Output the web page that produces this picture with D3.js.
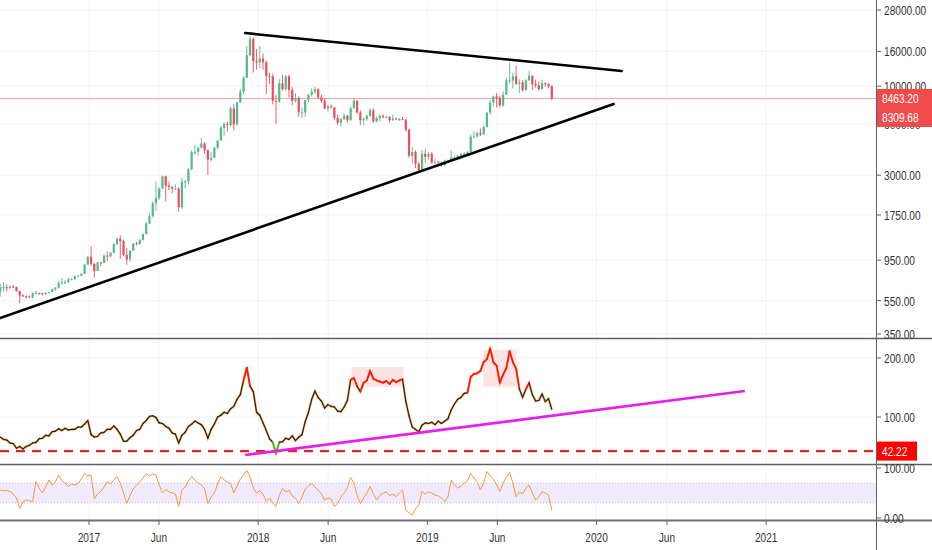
<!DOCTYPE html>
<html><head><meta charset="utf-8">
<script src="https://cdn.jsdelivr.net/npm/d3@7"></script>
<style>body{margin:0;background:#fff}svg{display:block}</style>
</head><body><svg id="c" width="932" height="550"></svg>
<script>
// ---------- DATA (weekly, week starting Monday) ----------
const startDate = "2016-06-20";
const firstOpen = 620;
const closes = [
 660,660,650,665,660,625,590,585,580,575,608,608,607,600,612,618,640,655,700,705,705,735,735,765,770,790,895,995,
 905,820,920,915,1010,1000,1050,1180,1270,1230,1020,960,1080,1190,1180,1250,1350,1560,1720,2050,2200,2500,2950,2600,2550,2500,2500,1950,2750,2750,3250,4100,4100,4350,4600,4200,3700,3800,4350,4800,5700,6000,5900,7400,5950,8000,9300,11200,15200,19000,14000,13800,
 14500,13800,11500,11400,8200,8100,10400,9600,11400,9500,8200,8500,7000,7000,8300,8900,9300,9600,8600,8200,7400,7600,7500,6500,6100,6400,6700,6300,7400,8200,7000,6300,6400,6700,7200,6200,6500,6700,6600,6600,6300,6450,6400,6400,6350,5550,3900,4100,3500,3200,4000,3850,4000,
 3550,3600,3550,3450,3650,3650,3800,3800,3900,4000,4000,4100,5050,5050,5300,5200,5750,7000,8000,8700,8500,7700,8900,10800,10800,11400,10300,10500,9500,10800,11500,10300,10100,9600,10400,10300,10000,8463.2
];
const highs = [
 690,705,685,680,680,665,630,600,590,590,615,630,615,612,615,620,645,660,720,745,725,750,745,770,775,795,905,1000,
 1150,910,930,930,1030,1070,1060,1200,1290,1330,1250,1120,1090,1200,1220,1260,1360,1600,1800,2100,2760,2550,2980,2980,2750,2600,2650,2550,2900,2800,3300,4200,4500,4400,4980,4700,4250,4100,4400,4800,5850,6150,6200,7600,7850,8100,9600,11400,17200,19700,19300,16500,
 17200,15500,14100,12000,11800,8900,11000,11600,11600,11700,9900,9100,8700,7500,8300,9000,9700,9900,9700,8900,8500,7800,7800,7500,6800,6500,6900,6800,7600,8500,8250,7200,6600,6800,7400,7400,6600,6800,6800,6700,6650,6800,6520,6500,6600,6400,5600,4400,4200,3600,4200,4250,4100,
 4100,3750,3650,3600,3700,3700,4200,3900,3950,4050,4100,4150,5200,5450,5400,5650,5900,7000,8300,8800,9100,8800,9300,11200,13800,12000,13200,11000,10800,11000,12300,11600,10900,10600,10900,10500,10400,10100
];
const lows = [
 580,620,620,645,650,620,530,580,565,570,565,600,600,590,595,605,615,630,650,680,690,700,725,730,755,765,790,890,
 880,750,820,880,910,940,990,1050,1170,970,1000,890,930,1080,1160,1170,1240,1350,1550,1700,1850,2150,2480,2100,2450,2350,2480,1830,1900,2500,2650,3200,3950,3900,4300,4000,3000,3600,3800,4250,4800,5100,5400,5800,5500,5900,8000,9000,11200,15000,12000,12500,
 12800,12500,9000,10300,7800,6000,8000,9400,9400,8600,7700,8000,6600,6500,6600,8000,8700,9000,8400,8000,7300,7100,7400,6300,5900,5800,6300,6100,6300,7400,6900,5900,5900,6250,6600,6100,6150,6200,6450,6450,6100,6250,6350,6250,6300,5400,3800,3500,3300,3150,3200,3550,3700,
 3500,3500,3500,3350,3380,3550,3650,3700,3700,3850,3950,3950,4100,4950,5000,5100,5200,5700,6800,7600,7500,7500,7550,8900,10400,9700,10200,9100,9300,9400,10800,9500,9800,9400,9600,9900,9700,8250
];
const ratio = [
 66,62,61,56,55,47,50,46,50,52,56,57,63,64,69,68,75,76,80,77,
 81,78,79,79,83,83,88,94,70,66,67,73,74,79,79,85,79,71,59,59,
 65,69,77,79,89,94,101,102,99,90,89,84,81,73,71,56,69,74,84,88,
 93,90,87,79,64,79,88,100,103,108,106,114,118,130,138,162,184,152,143,108,
 103,90,77,63,57,38,57,58,64,62,68,60,66,70,92,108,130,144,133,127,
 115,121,118,117,110,109,117,128,163,166,152,143,158,162,178,165,162,160,158,161,
 156,163,159,162,164,127,102,83,79,75,86,90,89,91,87,93,89,93,97,112,
 122,130,133,140,141,168,173,174,178,193,198,216,193,187,158,172,183,212,193,182,
 148,133,147,158,138,127,128,139,126,131,113
];
const rsi = [
 56,54,55,53,48,40,19,32,36,34,33,73,60,50,62,76,66,72,86,74,
 70,63,68,66,69,78,89,84,86,39,48,53,62,73,68,76,83,70,50,29,
 45,58,66,72,80,89,84,88,86,66,50,57,52,50,48,23,56,62,74,83,
 76,70,66,58,29,42,50,68,83,76,72,69,50,64,78,86,95,82,60,50,
 55,48,33,40,30,23,45,59,52,56,44,40,29,42,58,64,69,62,56,48,
 36,40,38,23,30,42,50,60,81,70,45,29,40,50,63,48,36,45,50,52,
 45,48,43,50,56,16,10,6,18,26,53,48,52,50,46,44,40,33,42,76,
 66,60,63,70,74,89,80,72,56,70,93,84,78,66,53,70,82,91,70,43,
 52,48,60,66,50,36,42,53,50,46,16
];
const priceTicks = [350,550,950,1750,3000,6000,10000,16000,28000];
const ratioTicks = [100,200];
const rsiTicks = [0,100];
const timeTicks = ["2017-01-01","2017-06-01","2018-01-01","2018-06-01","2019-01-01","2019-06-01","2020-01-01","2020-06-01","2021-01-01"];
const upperTrend = [["2017-12-04",20500],["2020-02-24",12270]];
const lowerTrend = [["2016-06-23",434],["2020-02-07",7850]];
const ratioTrend = [["2017-12-04",35.6],["2020-11-16",144]];
const ratioLevel = 42.22;
const lastPrice = 8463.20;
const maValue = 8309.68;
const hotZones = [["2018-07-21","2018-11-11",151,185],["2019-05-02","2019-07-13",151,214]];
const hotLevel = 150, coldLevel = 42;

// ---------- LAYOUT ----------
const svg = d3.select("#c");
const AX = 876, WIDTH = 932;
const P = {mainTop:0, mainBot:338, midBot:464, rsiBot:520};
const parse = d3.utcParse("%Y-%m-%d");
const x = d3.scaleTime().domain([parse("2016-06-23"), parse("2021-08-26")]).range([0, AX]);
const yP = d3.scaleLog().domain([350,28000]).range([334,10]);
const yR = d3.scaleLinear().domain([100,200]).range([417,358]);
const yS = d3.scaleLinear().domain([0,100]).range([518,468]);
const FONT = "Liberation Sans, Arial, sans-serif";

const defs = svg.append("defs");
function clip(id,y0,y1){defs.append("clipPath").attr("id",id).append("rect").attr("x",0).attr("y",y0).attr("width",AX).attr("height",y1-y0);}
clip("cMain",P.mainTop,P.mainBot); clip("cMid",P.mainBot,P.midBot); clip("cRsi",P.midBot,P.rsiBot);

const t0 = parse(startDate);
const dates = closes.map((c,i)=>d3.utcHour.offset(d3.utcDay.offset(t0,7*i),84));
const candles = closes.map((c,i)=>{const o = i? closes[i-1]: firstOpen;
  return {d:dates[i], o, c, h:Math.max(highs[i],o,c), l:Math.min(lows[i],o,c)};});

// grid
const grid = svg.append("g");
timeTicks.forEach(t=>{ grid.append("line").attr("x1",x(parse(t))).attr("x2",x(parse(t))).attr("y1",0).attr("y2",P.rsiBot).attr("stroke","#f2f3f6"); });
priceTicks.forEach(v=>{ grid.append("line").attr("x1",0).attr("x2",AX).attr("y1",yP(v)).attr("y2",yP(v)).attr("stroke","#f2f3f6"); });
ratioTicks.forEach(v=>{ grid.append("line").attr("x1",0).attr("x2",AX).attr("y1",yR(v)).attr("y2",yR(v)).attr("stroke","#f2f3f6"); });

// ----- main panel -----
const gm = svg.append("g").attr("clip-path","url(#cMain)");
gm.append("line").attr("x1",0).attr("x2",AX).attr("y1",yP(lastPrice)).attr("y2",yP(lastPrice)).attr("stroke","#f5a3a8").attr("stroke-width",1);
const bw = (x(d3.utcDay.offset(t0,7))-x(t0))*0.68;
const up="#53b987", dn="#eb4d5c";
gm.selectAll(".wick").data(candles).join("line").attr("x1",d=>x(d.d)).attr("x2",d=>x(d.d)).attr("y1",d=>yP(d.h)).attr("y2",d=>yP(d.l))
  .attr("stroke",d=>d.c>=d.o?up:dn).attr("stroke-width",0.9);
gm.selectAll(".body").data(candles).join("rect").attr("x",d=>x(d.d)-bw/2).attr("width",bw)
  .attr("y",d=>yP(Math.max(d.o,d.c))).attr("height",d=>Math.max(1,Math.abs(yP(d.o)-yP(d.c))))
  .attr("fill",d=>d.c>=d.o?up:dn);
[upperTrend,lowerTrend].forEach(tl=>{
  gm.append("line").attr("x1",x(parse(tl[0][0]))).attr("y1",yP(tl[0][1])).attr("x2",x(parse(tl[1][0]))).attr("y2",yP(tl[1][1]))
    .attr("stroke","#000").attr("stroke-width",2.6).attr("stroke-linecap","round");
});

// ----- ratio panel -----
const gr = svg.append("g").attr("clip-path","url(#cMid)");
hotZones.forEach(z=>{ gr.append("rect").attr("x",x(parse(z[0]))).attr("width",x(parse(z[1]))-x(parse(z[0])))
  .attr("y",yR(z[3])).attr("height",yR(z[2])-yR(z[3])).attr("fill","#fde4e4"); });
gr.append("line").attr("x1",0).attr("x2",AX).attr("y1",yR(ratioLevel)).attr("y2",yR(ratioLevel))
  .attr("stroke","#f41d1d").attr("stroke-width",2.4).attr("stroke-dasharray","9,7");
const rl = d3.line().x((d,i)=>x(dates[i])).y(d=>yR(d));
gr.append("path").datum(ratio).attr("d",rl).attr("fill","none").attr("stroke","#f5a04a").attr("stroke-width",2.2);
for(let i=0;i<ratio.length-1;i++){
  const a=(ratio[i]+ratio[i+1])/2, m=Math.min(ratio[i],ratio[i+1]);
  const col = a>hotLevel?"#ff1010":(m<coldLevel?"#22cc22":"#1e1e1e");
  gr.append("line").attr("x1",x(dates[i])).attr("y1",yR(ratio[i])).attr("x2",x(dates[i+1])).attr("y2",yR(ratio[i+1]))
    .attr("stroke",col).attr("stroke-width",col==="#1e1e1e"?1.1:1.6).attr("stroke-linecap","round");
}
gr.append("line").attr("x1",x(parse(ratioTrend[0][0]))).attr("y1",yR(ratioTrend[0][1])).attr("x2",x(parse(ratioTrend[1][0]))).attr("y2",yR(ratioTrend[1][1]))
  .attr("stroke","#e81ee8").attr("stroke-width",2.6);

// ----- rsi panel -----
const gs = svg.append("g").attr("clip-path","url(#cRsi)");
gs.append("rect").attr("x",0).attr("width",AX).attr("y",yS(70)).attr("height",yS(30)-yS(70)).attr("fill","#f1e9fc");
[70,30].forEach(v=>gs.append("line").attr("x1",0).attr("x2",AX).attr("y1",yS(v)).attr("y2",yS(v)).attr("stroke","#c9c2d6").attr("stroke-dasharray","1,2"));
gs.append("path").datum(rsi).attr("d",d3.line().x((d,i)=>x(dates[i])).y(d=>yS(d))).attr("fill","none").attr("stroke","#f59a3c").attr("stroke-width",1);

// ----- frame -----
const fr = svg.append("g");
[P.mainBot,P.midBot].forEach(y=>fr.append("line").attr("x1",0).attr("x2",WIDTH).attr("y1",y+0.5).attr("y2",y+0.5).attr("stroke","#5d606b").attr("stroke-width",1.4));
fr.append("line").attr("x1",0).attr("x2",WIDTH).attr("y1",P.rsiBot+0.5).attr("y2",P.rsiBot+0.5).attr("stroke","#6f727c").attr("stroke-width",2);
fr.append("line").attr("x1",AX+0.5).attr("x2",AX+0.5).attr("y1",0).attr("y2",550).attr("stroke","#5d606b").attr("stroke-width",1);

function txt(px,py,s,anchor,fill,size){
  svg.append("text").attr("transform",`translate(${px},${py}) scale(0.78,1)`).attr("text-anchor",anchor)
    .attr("dominant-baseline","central").attr("fill",fill).attr("font-family",FONT).attr("font-size",size).text(s);
}
const fmt = d3.format(".2f");
function yTick(y,v){ fr.append("line").attr("x1",AX).attr("x2",AX+5).attr("y1",y).attr("y2",y).attr("stroke","#5d606b"); txt(AX+8,y,fmt(v),"start","#333",13); }
priceTicks.forEach(v=>yTick(yP(v),v));
ratioTicks.forEach(v=>yTick(yR(v),v));
rsiTicks.forEach(v=>yTick(yS(v),v));
timeTicks.forEach(t=>{ const d=parse(t), xx=x(d);
  fr.append("line").attr("x1",xx).attr("x2",xx).attr("y1",P.rsiBot+1).attr("y2",P.rsiBot+5).attr("stroke","#5d606b");
  txt(xx,537, d.getUTCMonth()===0? d3.utcFormat("%Y")(d) : d3.utcFormat("%b")(d),"middle","#333",13);
});
// value boxes
function box(y,h,w,fill,label){ svg.append("rect").attr("x",AX+1).attr("y",y-h/2).attr("width",w).attr("height",h).attr("fill",fill); txt(AX+6,y,label,"start","#fff",13); }
box(yP(lastPrice),19,56,"#ef4b4b",fmt(lastPrice));
box(yP(lastPrice)+19,19,56,"#ef4b4b",fmt(maValue));
box(yR(ratioLevel),19,40,"#ff0000",fmt(ratioLevel));
</script></body></html>
